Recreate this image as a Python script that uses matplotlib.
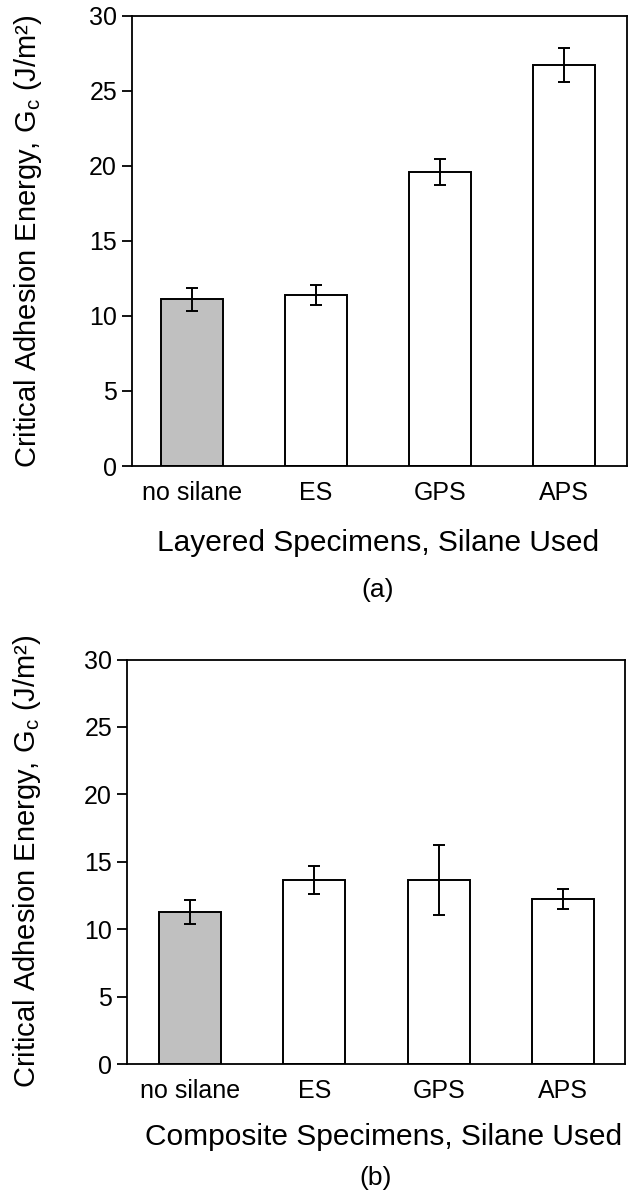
import matplotlib
matplotlib.use("Agg")
import matplotlib.pyplot as plt
import numpy as np

silanes = ["no silane", "ES", "GPS", "APS"]
layered_gc = [11.1, 11.4, 19.6, 26.7]
layered_err = [0.75, 0.65, 0.85, 1.15]
composite_gc = [11.25, 13.65, 13.65, 12.25]
composite_err = [0.9, 1.05, 2.6, 0.73]
bar_colors = ["#c0c0c0", "white", "white", "white"]

plt.rcParams["font.family"] = ["Liberation Sans", "DejaVu Sans"]
plt.rcParams["mathtext.default"] = "regular"

W, H = 628, 1192


def drawPanel(ax, gc, err, xlabel, xlim, xlab_pos, ylab_x):
    x = np.arange(len(silanes))
    ax.bar(x, gc, width=0.5, color=bar_colors, edgecolor="black", linewidth=1.4)
    ax.errorbar(x, gc, yerr=err, fmt="none", ecolor="black",
                elinewidth=1.4, capsize=4.5, capthick=1.4)
    ax.set_xlim(*xlim)
    ax.set_ylim(0, 30)
    ax.set_yticks(range(0, 31, 5))
    ax.set_xticks(x)
    ax.set_xticklabels(silanes)
    ax.tick_params(axis="x", length=0, pad=11, labelsize=18)
    ax.tick_params(axis="y", length=7, width=1.3, pad=3.5, labelsize=18)
    for s in ax.spines.values():
        s.set_linewidth(1.3)
    ax.set_xlabel(xlabel, fontsize=21.5, va="center")
    ax.xaxis.set_label_coords(*xlab_pos)
    ax.set_ylabel(r"Critical Adhesion Energy, G$_c$ (J/m²)", fontsize=21,
                  va="center", ha="center")
    ax.yaxis.set_label_coords(ylab_x, 0.5)


fig = plt.figure(figsize=(W / 100, H / 100), dpi=100)

# (a) layered
ax1 = fig.add_axes([131.7 / W, 1 - 466 / H, (627 - 131.7) / W, (466 - 15.7) / H])
drawPanel(ax1, layered_gc, layered_err, "Layered Specimens, Silane Used",
          (-0.486, 3.508), ((378 - 131.7) / 495.3, (466 - 543) / 450.3),
          (28 - 131.7) / 495.3)
fig.text(378 / W, 1 - 590 / H, "(a)", fontsize=19, ha="center", va="center")

# (b) composite
ax2 = fig.add_axes([126.7 / W, 1 - 1064 / H, (625.3 - 126.7) / W, (1064 - 659.5) / H])
drawPanel(ax2, composite_gc, composite_err, "Composite Specimens, Silane Used",
          (-0.507, 3.5), ((384 - 126.7) / 498.6, (1064 - 1137) / 404.5),
          (27 - 126.7) / 498.6)
fig.text(376 / W, 1 - 1178 / H, "(b)", fontsize=19, ha="center", va="center")

fig.savefig("out.png", dpi=100)
